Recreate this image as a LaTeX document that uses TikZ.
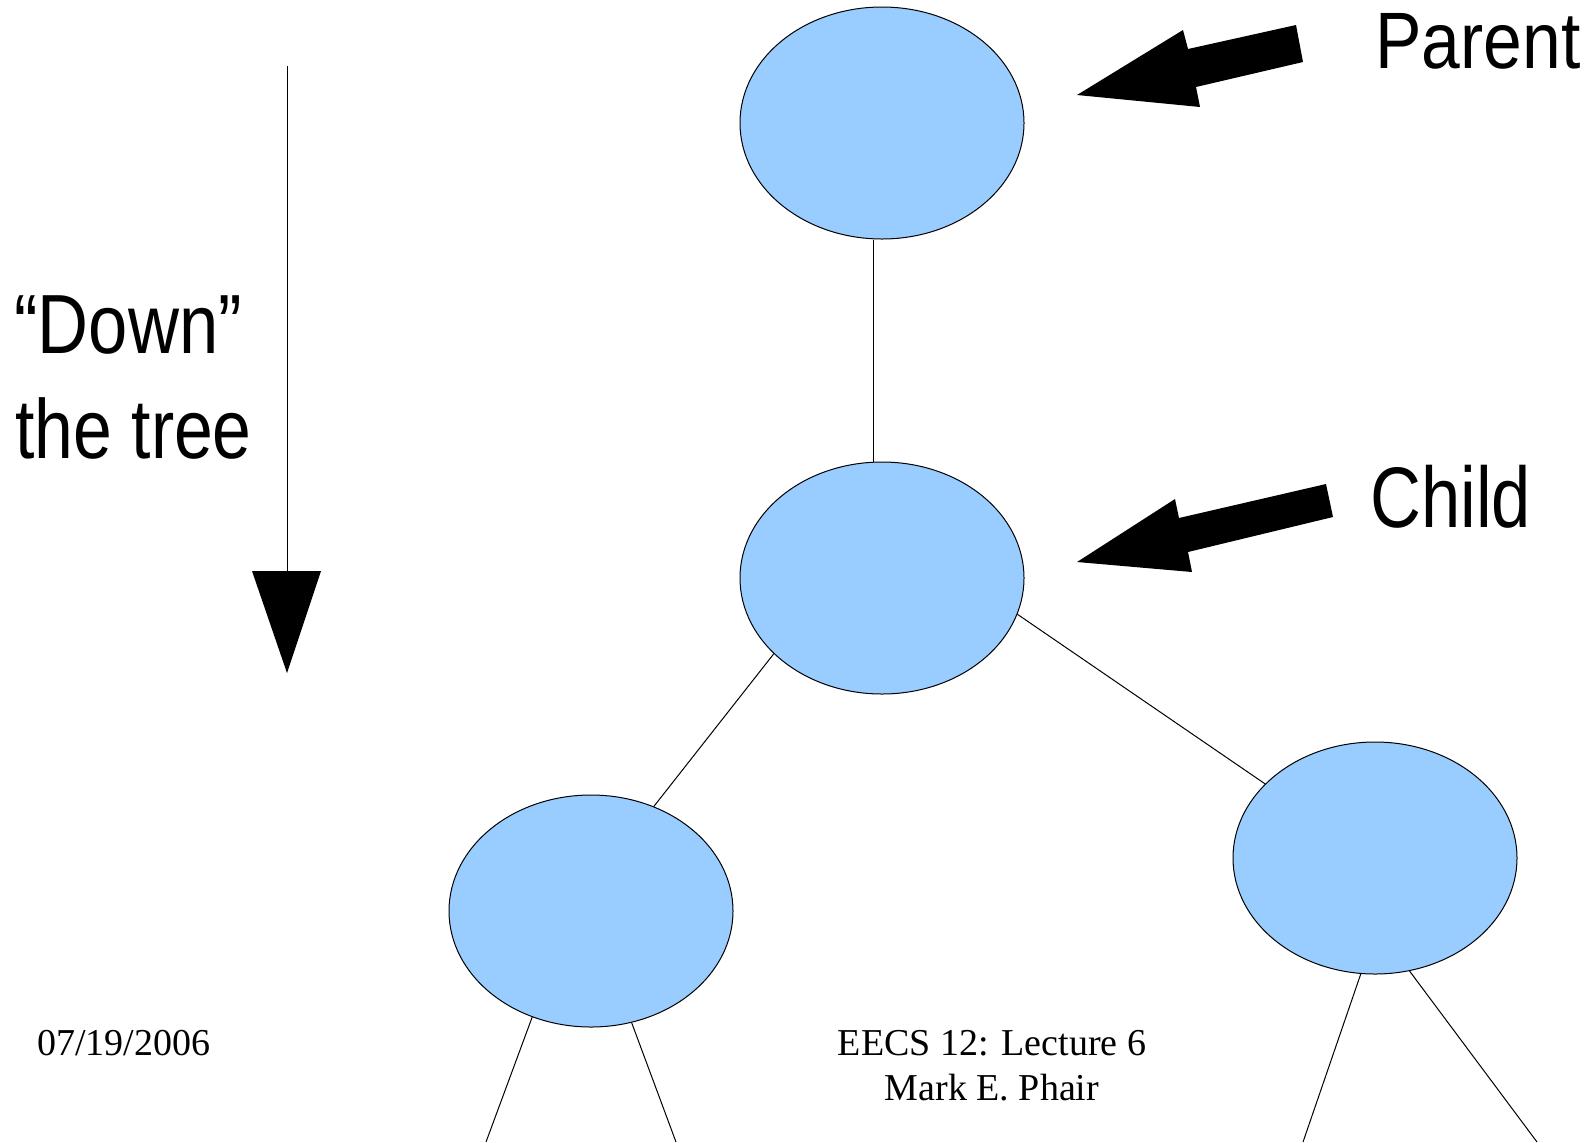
\documentclass[tikz,border=0pt]{standalone}
\usepackage{fontspec}
\setmainfont{Liberation Serif}
\newfontfamily\labelsans{Liberation Sans}
\usetikzlibrary{shapes.geometric}
\definecolor{nodeblue}{HTML}{99CCFF}
\tikzset{
  treenode/.style={ellipse, draw=black, line width=0.5pt, fill=nodeblue,
    minimum width=142pt, minimum height=116pt, inner sep=0pt},
  treeedge/.style={line width=0.5pt},
  bigtext/.style={inner sep=0pt, anchor=base west},
  foot/.style={inner sep=0pt, anchor=base, font=\fontsize{19}{23}\selectfont},
  blockarrow/.style={fill=black, draw=none}
}
\begin{document}
\begin{tikzpicture}[x=0.5pt, y=-0.5pt]
  \useasboundingbox (0,0) rectangle (1590,1142);

  % tree nodes
  \node[treenode] (p) at (882,123) {};
  \node[treenode] (c) at (882,578) {};
  \node[treenode] (l) at (591,911) {};
  \node[treenode] (r) at (1375,858) {};

  % loose ends running off the bottom
  \coordinate (ll) at (486,1142);
  \coordinate (lr) at (676,1142);
  \coordinate (rl) at (1303,1142);
  \coordinate (rr) at (1537,1142);

  % edges
  \draw[treeedge] ([xshift=-4.5pt]p.south) -- ([xshift=-4.5pt]c.north);
  \draw[treeedge] (c.215) -- (l.59);
  \draw[treeedge] (c.345) -- (r.146);
  \draw[treeedge] (l.241) -- (ll);
  \draw[treeedge] (l.290) -- (lr);
  \draw[treeedge] (r.263) -- (rl);
  \draw[treeedge] (r.287) -- (rr);

  % labels
  \node[bigtext] (parentlbl) at (1375,68)
    {\labelsans\fontsize{40}{40}\selectfont\scalebox{0.87}[1]{Parent}};
  \node[bigtext] (childlbl) at (1370,527)
    {\labelsans\fontsize{43}{43}\selectfont\scalebox{0.82}[1]{Child}};
  \node[bigtext] (downlbl) at (14,353)
    {\labelsans\fontsize{42}{42}\selectfont\scalebox{0.84}[1]{“Down”}};
  \node[bigtext] (treelbl) at (15,458)
    {\labelsans\fontsize{42}{42}\selectfont\scalebox{0.83}[1]{the tree}};

  % block arrows pointing at the nodes
  \fill[blockarrow] (1077,95) -- (1183,30) -- (1188,49) -- (1296,25)
    -- (1303,62) -- (1196,87) -- (1200,107) -- cycle;
  \fill[blockarrow] (1077,562) -- (1175,499) -- (1179,518) -- (1326,484)
    -- (1333,517) -- (1188,552) -- (1192,572) -- cycle;

  % downward arrow
  \coordinate (dtop) at (287,66);
  \coordinate (dhead) at (287,571);
  \draw[line width=0.5pt] (dtop) -- (dhead);
  \fill[black] (252,571) -- (321,571) -- (287,673) -- cycle;

  % footer
  \node[inner sep=0pt, anchor=base west, font=\fontsize{19}{23}\selectfont] (date) at (37,1055) {07/19/2006};
  \node[foot] (course) at (992,1055) {EECS 12: Lecture 6};
  \node[foot] (author) at (992,1100) {Mark E. Phair};
\end{tikzpicture}
\end{document}
